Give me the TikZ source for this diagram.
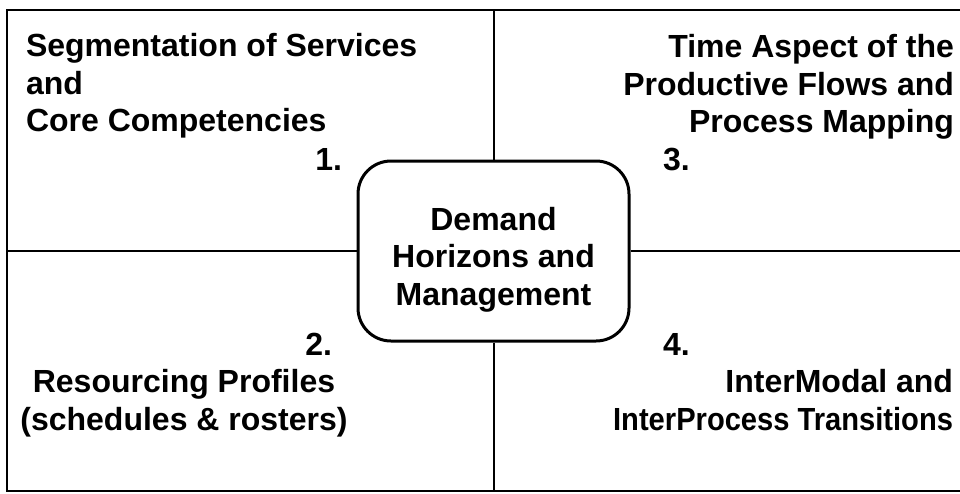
\documentclass[tikz,border=0pt]{standalone}
\usepackage{fontspec}
\setmainfont{Liberation Sans}

\tikzset{
  quad/.style={font=\fontsize{32}{37.5}\selectfont\bfseries, inner sep=0pt},
  hub/.style={draw, line width=3pt, rounded corners=33pt, minimum width=271pt, minimum height=180pt},
}

\begin{document}
\begin{tikzpicture}[x=1pt,y=-1pt,line width=2pt]
\useasboundingbox (0,0) rectangle (960,493);
\node[draw, minimum width=954pt, minimum height=480.5pt, inner sep=0pt] (frame) at (484,250.25) {};

\node[hub] (demand) at (493.5,251) {};
\node[quad, align=center, anchor=base] (demandtxt) at (493.5,305) {Demand\\Horizons and\\Management};

\draw (demand.north) -- (demand.north |- frame.north);
\draw (demand.south) -- (demand.south |- frame.south);
\draw (demand.west) -- (demand.west -| frame.west);
\draw (demand.east) -- (demand.east -| frame.east);

\node[quad, align=left, anchor=base west] (seg) at (25,131.7) {Segmentation of Services\\and\\Core Competencies};
\node[quad, anchor=base east] (n1) at (343,170) {1.};

\node[quad, align=right, anchor=base east] (time) at (955,132.7) {Time Aspect of the\\Productive Flows and\\Process Mapping};
\node[quad, anchor=base west] (n3) at (662,170) {3.};

\node[quad, anchor=base east] (n2) at (333,355) {2.};
\node[quad, align=center, anchor=base] (res) at (184,430) {Resourcing Profiles\\(schedules \& rosters)};

\node[quad, anchor=base west] (n4) at (662,355) {4.};
\node[quad, align=right, anchor=base east] (inter) at (954,430) {InterModal and\\\scalebox{0.91}[1]{InterProcess Transitions}};
\end{tikzpicture}
\end{document}
